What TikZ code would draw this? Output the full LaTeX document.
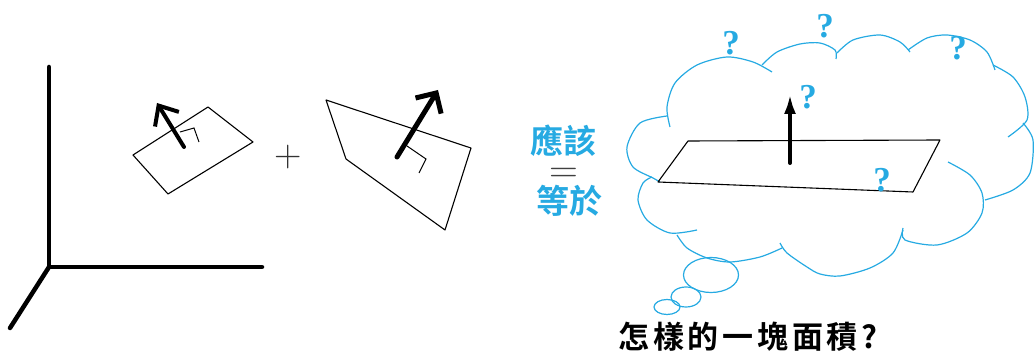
\documentclass[tikz,border=0pt]{standalone}
\usepackage{fontspec}
\newfontfamily\zhfont{Noto Sans CJK TC}[BoldFont={Noto Sans CJK TC Bold}]
\newfontfamily\qfont{Liberation Serif}
\usetikzlibrary{arrows.meta}

\definecolor{thinkblue}{RGB}{38,170,226}

\tikzset{
  axis/.style={line width=4.5pt, line cap=round},
  patch/.style={line width=1.1pt, line join=round},
  normal/.style={line width=4pt, line cap=round},
  corner/.style={line width=1pt},
  puff/.style={thinkblue, line width=1.2pt},
  qmark/.style={thinkblue, inner sep=0pt, font=\qfont\bfseries\fontsize{35}{35}\selectfont},
  bluetxt/.style={thinkblue, inner sep=0pt, font=\zhfont\bfseries\fontsize{33}{33}\selectfont},
}

\begin{document}
\begin{tikzpicture}[x=1pt, y=-1pt]
  \useasboundingbox (0,0) rectangle (1034,352);

  % xyz axes
  \coordinate (o) at (49,267);
  \coordinate (ax) at (262,267);
  \coordinate (ay) at (49,67);
  \coordinate (az) at (10,328);
  \draw[axis] (ay) -- (o) -- (ax);
  \draw[axis] (o) -- (az);

  % first small patch with its normal
  \coordinate (p1) at (133,155);
  \coordinate (p2) at (208,107);
  \coordinate (p3) at (253,142);
  \coordinate (p4) at (168,194);
  \draw[patch] (p1) -- (p2) -- (p3) -- (p4) -- cycle;
  \coordinate (n1) at (184,147);
  \coordinate (n1h) at (157,103);
  \draw[normal, -{Straight Barb[length=16pt, width=28pt]}] (n1) -- (n1h);
  \draw[corner] (180,132) -- (194,128) -- (199,142);

  \node[inner sep=0pt, gray!40!black, font=\fontsize{38}{38}\selectfont] (plus) at (288,157) {+};

  % second patch
  \coordinate (q1) at (326,100);
  \coordinate (q2) at (471,148);
  \coordinate (q3) at (445,230);
  \coordinate (q4) at (346,159);
  \draw[patch] (q1) -- (q2) -- (q3) -- (q4) -- cycle;
  \coordinate (n2) at (397,157);
  \coordinate (n2h) at (438,90);
  \draw[line width=5pt, line cap=round, -{Straight Barb[length=15pt, width=30pt]}] (n2) -- (n2h);
  \draw[corner] (407,146) -- (426,159) -- (419,173);

  % the words in between
  \node[bluetxt] (ying) at (563,141) {應該};
  \node[inner sep=0pt, anchor=base, text height=0.3em, text depth=0pt,
        gray!50!black, font=\fontsize{40}{40}\selectfont] (eq) at (564,183) {=};
  \node[bluetxt] (deng) at (569,201) {等於};

  % thought cloud, one puff at a time
  \draw[puff] plot[smooth] coordinates {(667,116) (640,123) (627,147) (633,167) (653,178) (660,182)};
  \draw[puff] plot[smooth] coordinates {(670,127) (667,107) (675,83) (697,65) (727,57) (753,62) (772,72)};
  \draw[puff] plot[smooth] coordinates {(762,65) (777,52) (800,44) (820,43) (835,50) (836,59)};
  \draw[puff] plot[smooth] coordinates {(837,53) (853,40) (880,35) (900,42) (910,52)};
  \draw[puff] plot[smooth] coordinates {(908,50) (927,38) (947,35) (970,40) (987,52) (995,70)};
  \draw[puff] plot[smooth] coordinates {(993,65) (1013,77) (1025,97) (1027,120) (1008,137)};
  \draw[puff] plot[smooth] coordinates {(1023,123) (1033,140) (1030,173) (1013,190) (985,200)};
  \draw[puff] plot[smooth] coordinates {(948,162) (970,175) (982,193) (982,213) (967,233) (937,245) (905,240) (903,228)};
  \draw[puff] plot[smooth] coordinates {(903,230) (893,253) (870,268) (840,276) (820,274) (807,267) (787,253) (780,243)};
  \draw[puff] plot[smooth] coordinates {(782,248) (760,257) (730,262) (707,258) (687,248) (677,235)};
  \draw[puff] plot[smooth] coordinates {(697,230) (670,233) (647,220) (638,200) (643,183) (652,177)};

  % little bubbles below
  \draw[puff] (711,275) ellipse [x radius=27.5, y radius=17.5];
  \draw[puff] (686,297) ellipse [x radius=15, y radius=10];
  \draw[puff] (667,307) ellipse [x radius=13, y radius=7.5];

  % plane inside the cloud
  \coordinate (s1) at (688,141);
  \coordinate (s2) at (940,140);
  \coordinate (s3) at (913,192);
  \coordinate (s4) at (658,182);
  \draw[patch] (s1) -- (s2) -- (s3) -- (s4) -- cycle;
  \coordinate (n3) at (790,163);
  \coordinate (n3h) at (790,94);
  \draw[normal, -{Latex[length=20pt, width=12pt]}] (n3) -- (n3h);

  \node[qmark] (q-a) at (731,43) {?};
  \node[qmark] (q-b) at (825,26) {?};
  \node[qmark] (q-c) at (958,48) {?};
  \node[qmark] (q-d) at (808,97) {?};
  \node[qmark] (q-e) at (882,180) {?};

  \node[inner sep=0pt, font=\zhfont\bfseries\fontsize{31}{31}\selectfont\addfontfeature{LetterSpace=12}] (ask) at (748,337) {怎樣的一塊面積?};

\end{tikzpicture}
\end{document}
